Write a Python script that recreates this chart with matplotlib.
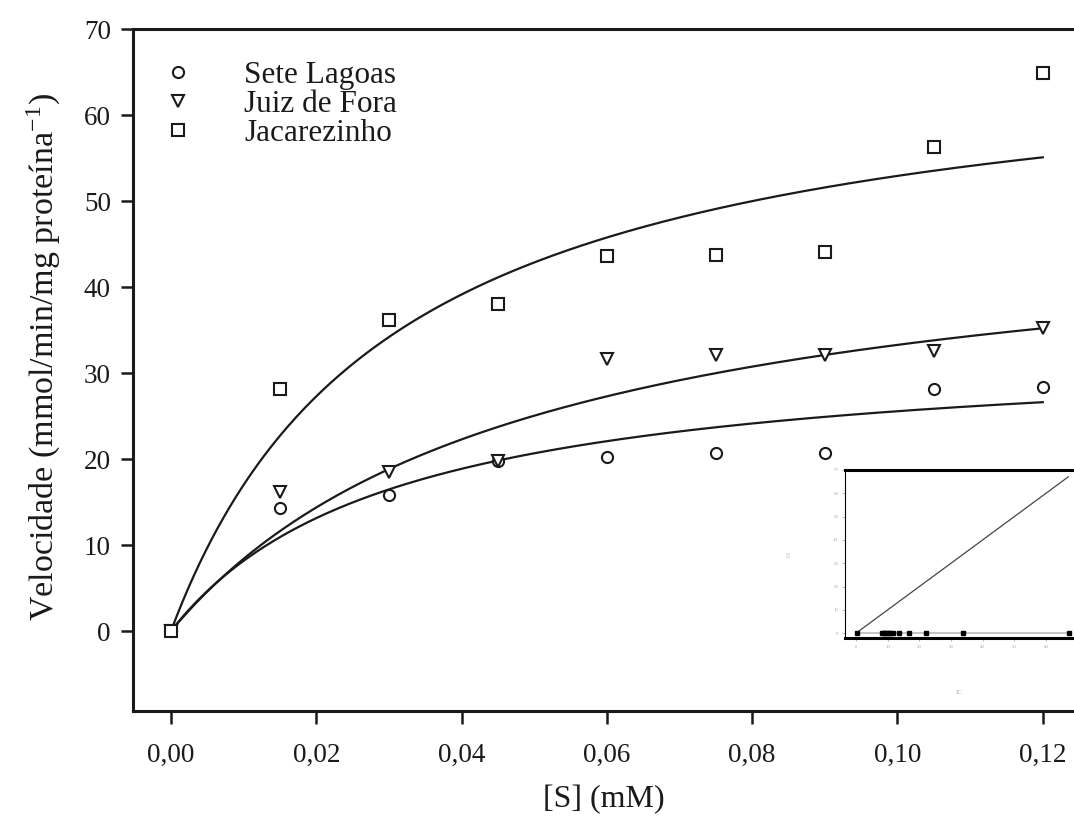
import numpy as np
import matplotlib
matplotlib.use('Agg')
import matplotlib.pyplot as plt
from matplotlib.ticker import FuncFormatter

plt.rcParams['font.family'] = ['Liberation Serif', 'DejaVu Serif']
plt.rcParams['mathtext.fontset'] = 'stix'

# Substrate concentrations (mM)
s_conc = [0.0, 0.015, 0.03, 0.045, 0.06, 0.075, 0.09, 0.105, 0.12]

# Measured velocities
sete_lagoas = [0.0, 14.3, 15.8, 19.8, 20.2, 20.7, 20.7, 28.1, 28.4]
juiz_de_fora = [0.0, 16.2, 18.5, 19.8, 31.6, 32.1, 32.1, 32.6, 35.3]
jacarezinho = [0.0, 28.1, 36.2, 38.0, 43.6, 43.7, 44.1, 56.3, 64.9]

# Michaelis-Menten fit parameters (Vmax, Km)
fit_sete = (33.5, 0.031)
fit_juiz = (49.6, 0.049)
fit_jaca = (69.2, 0.0307)

# Inset data
inset_pts_x = [0.3, 8.2, 8.7, 9.3, 9.8, 10.3, 10.8, 11.7, 13.5, 16.6, 22.2, 33.8, 67.2]
inset_pts_y = [0] * len(inset_pts_x)
inset_line_x = [0, 67]
inset_line_y = [0, 67]

ink = '#1a1a1a'

fig = plt.figure(figsize=(10.74, 8.36), dpi=100)
ax = fig.add_axes([0.124, 0.1495, 0.876, 0.8155])

s_fine = np.linspace(0, 0.12, 300)
for vmax, km in (fit_sete, fit_juiz, fit_jaca):
    ax.plot(s_fine, vmax * s_fine / (km + s_fine), color=ink, lw=1.6, zorder=2)

mk = dict(linestyle='none', markerfacecolor='white', markeredgecolor=ink,
          markeredgewidth=1.5, markersize=8, zorder=3)
ax.plot(s_conc, sete_lagoas, marker='o', label='Sete Lagoas', **mk)
ax.plot(s_conc, juiz_de_fora, marker='v', label='Juiz de Fora', **mk)
ax.plot(s_conc, jacarezinho, marker='s', label='Jacarezinho', **mk)

ax.set_xlim(-0.0052, 0.1243)
ax.set_ylim(-9.3, 70)
ax.set_xticks(np.arange(0, 0.121, 0.02))
ax.set_yticks(np.arange(0, 71, 10))
ax.xaxis.set_major_formatter(FuncFormatter(lambda v, p: f'{v:.2f}'.replace('.', ',')))
ax.tick_params(direction='out', length=9, width=1.8, labelsize=19.5,
               colors=ink, pad=14)
ax.tick_params(axis='y', pad=7)
for side in ('left', 'bottom', 'top'):
    ax.spines[side].set_linewidth(2.2)
    ax.spines[side].set_color(ink)
ax.spines['right'].set_visible(False)

ax.set_xlabel('[S] (mM)', fontsize=23, color=ink, labelpad=12)
ax.set_ylabel('Velocidade (mmol/min/mg proteína$^{\\mathregular{-1}}$)',
              fontsize=24.5, color=ink)
ax.yaxis.set_label_coords(-0.076, 0.52)

leg = ax.legend(loc='upper left', frameon=False, fontsize=22.5,
                bbox_to_anchor=(-0.01, 0.999), handletextpad=1.35,
                labelspacing=0.0, borderaxespad=0.6, handlelength=1.5)
for t in leg.get_texts():
    t.set_color(ink)

# Inset
ins = fig.add_axes([0.787, 0.237, 0.213, 0.201])
ins.plot(inset_line_x, inset_line_y, color='#444444', lw=0.9)
ins.axhline(0, color='#bbbbbb', lw=1.2, xmin=0.05, xmax=0.98)
ins.plot(inset_pts_x, inset_pts_y, linestyle='none', marker='s',
         markersize=3, color='black')
ins.set_xlim(-3.4, 68.8)
ins.set_ylim(-2, 70)
ins.set_xticks(np.arange(0, 61, 10))
ins.set_yticks(np.arange(0, 71, 10))
ins.tick_params(direction='out', length=2, width=0.6, labelsize=3.5,
                colors='#aaaaaa', pad=3)
ins.spines['left'].set_linewidth(0.8)
ins.spines['top'].set_linewidth(2.2)
ins.spines['bottom'].set_linewidth(2.2)
ins.spines['right'].set_visible(False)
ins.set_xlabel('IC', fontsize=5, color='#aaaaaa', labelpad=30)
ins.set_ylabel('I.S', fontsize=4, color='#bbbbbb', labelpad=30)

fig.savefig('out.png', dpi=100)
